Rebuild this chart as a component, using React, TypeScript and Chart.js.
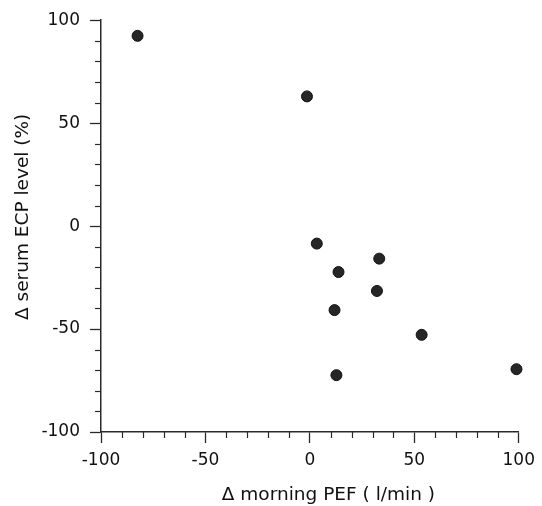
import React, { useEffect, useRef } from "react";
import { Chart, registerables } from "chart.js";

Chart.register(...registerables);

const pefChange = [-82.5, -1.4, 3.3, 13.7, 33.2, 32.1, 11.8, 53.5, 12.7, 98.9];
const ecpChange = [92.4, 63.0, -8.5, -22.3, -15.8, -31.5, -40.8, -52.8, -72.4, -69.5];
const xTitle = "\u2003\u2003Δ morning PEF ( l/min )";
const yTitle = "\u2003Δ serum ECP level (%)";
const axisMin = -100;
const axisMax = 100;
const majorStep = 50;
const minorStep = 10;

const INK = "#2a2a2a";

const minorTicks = {
  id: "minorTicks",
  afterDraw(chart: any) {
    const { ctx, chartArea } = chart;
    const xs = chart.scales.x;
    const ys = chart.scales.y;
    ctx.save();
    ctx.strokeStyle = INK;
    ctx.lineWidth = 1.2;
    for (let v = axisMin; v <= axisMax; v += minorStep) {
      if (v % majorStep === 0) continue;
      const px = Math.round(xs.getPixelForValue(v)) + 0.5;
      ctx.beginPath();
      ctx.moveTo(px, chartArea.bottom);
      ctx.lineTo(px, chartArea.bottom + 6);
      ctx.stroke();
      const py = Math.round(ys.getPixelForValue(v)) + 0.5;
      ctx.beginPath();
      ctx.moveTo(chartArea.left, py);
      ctx.lineTo(chartArea.left - 6, py);
      ctx.stroke();
    }
    ctx.restore();
  },
};

export default function App() {
  const ref = useRef<HTMLCanvasElement>(null);
  useEffect(() => {
    document.body.style.margin = "0";
    const font = { family: "'DejaVu Sans', Arial, sans-serif", size: 17 };
    const titleFont = { family: "'DejaVu Sans', Arial, sans-serif", size: 18.5 };
    const tickColor = (c: any) => (c.tick && c.tick.value % majorStep === 0 ? INK : "transparent");
    const chart = new Chart(ref.current as HTMLCanvasElement, {
      type: "scatter",
      data: {
        datasets: [
          {
            data: pefChange.map((x, i) => ({ x, y: ecpChange[i] })),
            backgroundColor: "#262626",
            borderColor: "#111",
            borderWidth: 1,
            pointRadius: 5.5,
            clip: false,
          } as any,
        ],
      },
      options: {
        animation: false,
        responsive: false,
        devicePixelRatio: 1,
        layout: { padding: { top: 20, right: 21, left: 0, bottom: 0 } },
        plugins: { legend: { display: false }, tooltip: { enabled: false } },
        scales: {
          x: {
            type: "linear",
            min: axisMin,
            max: axisMax,
            afterFit: (s: any) => {
              s.height = 74;
            },
            border: { display: true, color: INK, width: 1.5 },
            grid: { display: true, drawOnChartArea: false, drawTicks: true, tickLength: 11, tickColor, tickWidth: 1.3 },
            ticks: {
              stepSize: minorStep,
              autoSkip: false,
              maxRotation: 0,
              padding: 7,
              color: "#111",
              font,
              callback: (v: any) => (Number(v) % majorStep === 0 ? String(v) : ""),
            },
            title: { display: true, text: xTitle, color: "#111", font: titleFont, padding: { top: 0, bottom: 0 } },
          },
          y: {
            type: "linear",
            min: axisMin,
            max: axisMax,
            afterFit: (s: any) => {
              s.width = 101;
            },
            border: { display: true, color: INK, width: 1.5 },
            grid: { display: true, drawOnChartArea: false, drawTicks: true, tickLength: 11, tickColor, tickWidth: 1.3 },
            ticks: {
              stepSize: minorStep,
              autoSkip: false,
              padding: 10,
              color: "#111",
              font,
              callback: (v: any) => (Number(v) % majorStep === 0 ? String(v) : ""),
            },
            title: { display: true, text: yTitle, color: "#111", font: titleFont, padding: { top: 12, bottom: 0 } },
          },
        },
      },
      plugins: [minorTicks],
    });
    return () => chart.destroy();
  }, []);
  return <canvas ref={ref} width={542} height={506} style={{ display: "block" }} />;
}
